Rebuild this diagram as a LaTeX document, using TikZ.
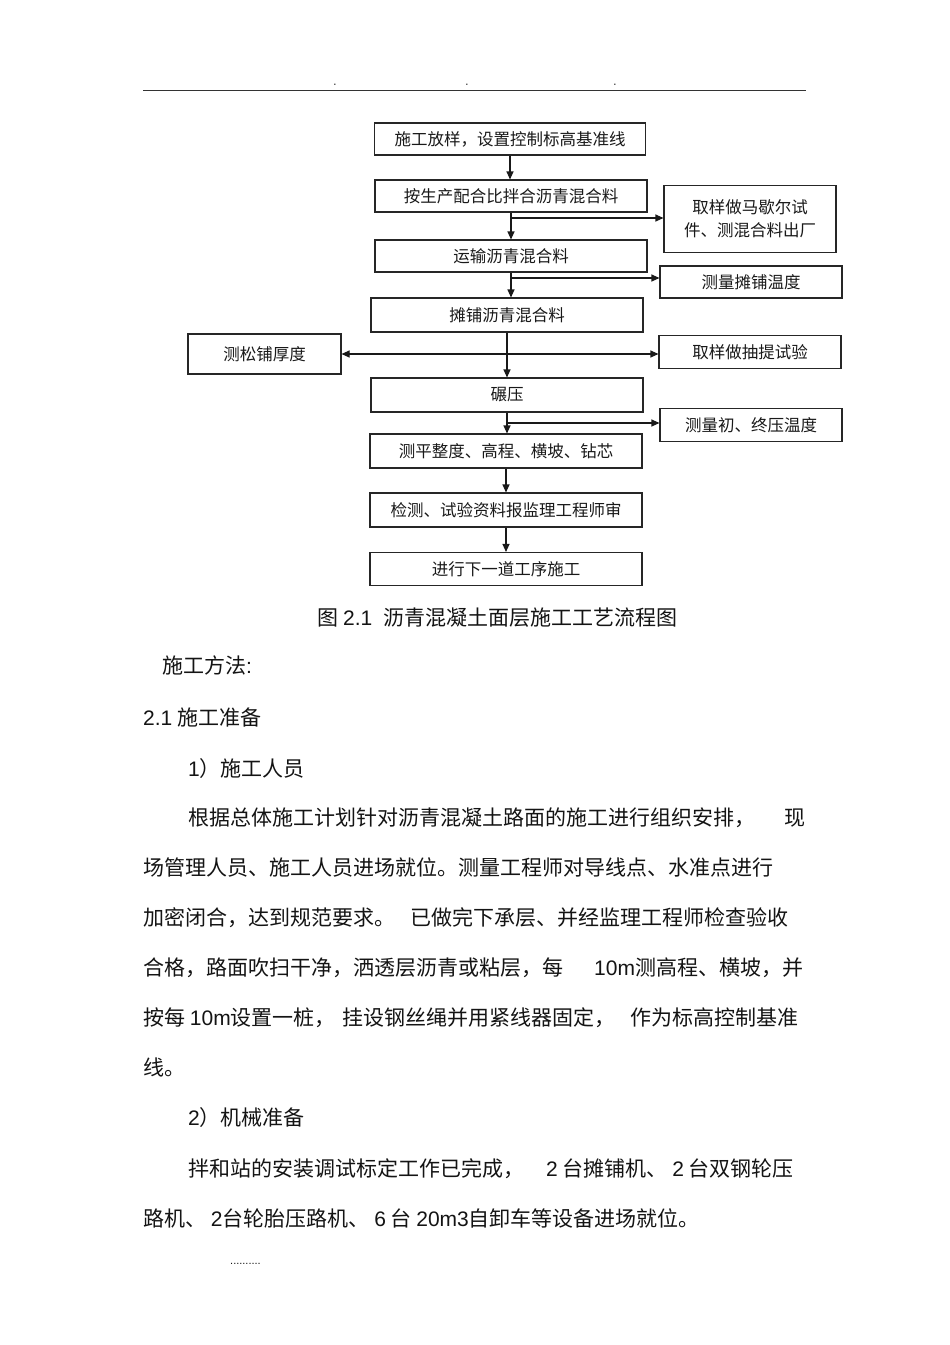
\documentclass[tikz,border=0pt]{standalone}
\usepackage{fontspec}
\setmainfont{Noto Sans CJK SC}
\newfontfamily\ltn{Liberation Sans}
\usetikzlibrary{arrows.meta}
\begin{document}
\begin{tikzpicture}[x=1pt,y=-1pt,
  box/.style={draw=black!85, line width=1.1pt, minimum height=32pt, inner sep=0pt,
    font=\fontsize{16.5}{23}\selectfont, text=black!90, align=center},
  arr/.style={draw=black!90, line width=1.1pt, -{Triangle[length=8pt,width=7pt]}},
  body/.style={anchor=base west, inner sep=0pt, font=\fontsize{21}{25}\selectfont, text=black!92},
  bodyr/.style={body, anchor=base east},
  dotmark/.style={anchor=base, inner sep=0pt, font=\ltn\fontsize{13}{13}\selectfont, text=black!75}]
\useasboundingbox (0,0) rectangle (950,1345);
\fill[white] (0,0) rectangle (950,1345);

% header
\draw[black!80, line width=1.8pt] (143,90.5) -- (806,90.5);
\node[dotmark] (d1) at (335,85) {.};
\node[dotmark] (d2) at (467,85) {.};
\node[dotmark] (d3) at (615,85) {.};

% main column
\node[box, minimum width=271pt] (b1) at (510,139) {施工放样，设置控制标高基准线};
\node[box, minimum width=272pt] (b2) at (511,196) {按生产配合比拌合沥青混合料};
\node[box, minimum width=272pt] (b3) at (511,256) {运输沥青混合料};
\node[box, minimum width=272pt, minimum height=34pt] (b4) at (507,315) {摊铺沥青混合料};
\node[box, minimum width=272pt, minimum height=34pt] (b5) at (507,395) {碾压};
\node[box, minimum width=272pt, minimum height=34pt] (b6) at (506,451) {测平整度、高程、横坡、钻芯};
\node[box, minimum width=272pt, minimum height=34pt] (b7) at (506,510) {检测、试验资料报监理工程师审};
\node[box, minimum width=272pt, minimum height=33pt] (b8) at (506,569) {进行下一道工序施工};

% side boxes
\node[box, minimum width=172pt, minimum height=67pt] (s1) at (750,219) {取样做马歇尔试\\件、测混合料出厂};
\node[box, minimum width=182pt] (s2) at (751,282) {测量摊铺温度};
\node[box, minimum width=153pt, minimum height=40pt] (L) at (264.5,354) {测松铺厚度};
\node[box, minimum width=182pt, minimum height=33pt] (s3) at (750,352) {取样做抽提试验};
\node[box, minimum width=182pt, minimum height=33pt] (s4) at (751,425) {测量初、终压温度};

% connectors
\coordinate (y1) at (0,218);
\coordinate (y2) at (0,278);
\coordinate (y3) at (0,354);
\coordinate (y4) at (0,423);
\coordinate (j1) at (b2.south |- y1);
\coordinate (j2) at (b3.south |- y2);
\coordinate (j3) at (b4.south |- y3);
\coordinate (j4) at (b5.south |- y4);

\draw[arr] (b1.south) -- (b1.south |- b2.north);
\draw[arr] (b2.south) -- (b2.south |- b3.north);
\draw[arr] (j1) -- (j1 -| s1.west);
\draw[arr] (b3.south) -- (b3.south |- b4.north);
\draw[arr] (j2) -- (j2 -| s2.west);
\draw[arr] (b4.south) -- (b4.south |- b5.north);
\draw[arr] (j3) -- (j3 -| s3.west);
\draw[arr] (j3) -- (j3 -| L.east);
\draw[arr] (b5.south) -- (b5.south |- b6.north);
\draw[arr] (j4) -- (j4 -| s4.west);
\draw[arr] (b6.south) -- (b6.south |- b7.north);
\draw[arr] (b7.south) -- (b7.south |- b8.north);

% caption
\node[anchor=base west, inner sep=0pt, font=\fontsize{21}{24}\selectfont, text=black!92] (cap) at (317,625)
  {图\hspace{5pt}{\ltn 2.1}\hspace{11pt}沥青混凝土面层施工工艺流程图};

% body text
\node[body] (t1) at (162,673) {施工方法{\ltn :}};
\node[body] (t2) at (143,725) {{\ltn 2.1} 施工准备};
\node[body] (t3) at (188,776) {{\ltn 1}）施工人员};
\node[body] (p1a) at (188,825) {根据总体施工计划针对沥青混凝土路面的施工进行组织安排，};
\node[bodyr] (p1b) at (806,825) {现};
\node[body] (p2) at (143,875) {场管理人员、施工人员进场就位。测量工程师对导线点、水准点进行};
\node[body] (p3a) at (143,925) {加密闭合，达到规范要求。};
\node[body] (p3b) at (410,925) {已做完下承层、并经监理工程师检查验收};
\node[body] (p4a) at (143,975) {合格，路面吹扫干净，洒透层沥青或粘层，每};
\node[body] (p4b) at (594,975) {{\ltn 10m}测高程、横坡，并};
\node[body] (p5a) at (143,1025) {按每 {\ltn 10m}设置一桩，};
\node[body] (p5b) at (342,1025) {挂设钢丝绳并用紧线器固定，};
\node[body] (p5c) at (630,1025) {作为标高控制基准};
\node[body] (p6) at (143,1075) {线。};
\node[body] (t4) at (188,1125) {{\ltn 2}）机械准备};
\node[body] (p7a) at (188,1176) {拌和站的安装调试标定工作已完成，};
\node[body] (p7b) at (546,1176) {{\ltn 2} 台摊铺机、 {\ltn 2} 台双钢轮压};
\node[body] (p8) at (143,1226) {路机、 {\ltn 2}台轮胎压路机、 {\ltn 6} 台 {\ltn 20m3}自卸车等设备进场就位。};
\node[body, font=\fontsize{11}{11}\selectfont] (dots) at (230,1264) {{\ltn ..........}};
\end{tikzpicture}
\end{document}
